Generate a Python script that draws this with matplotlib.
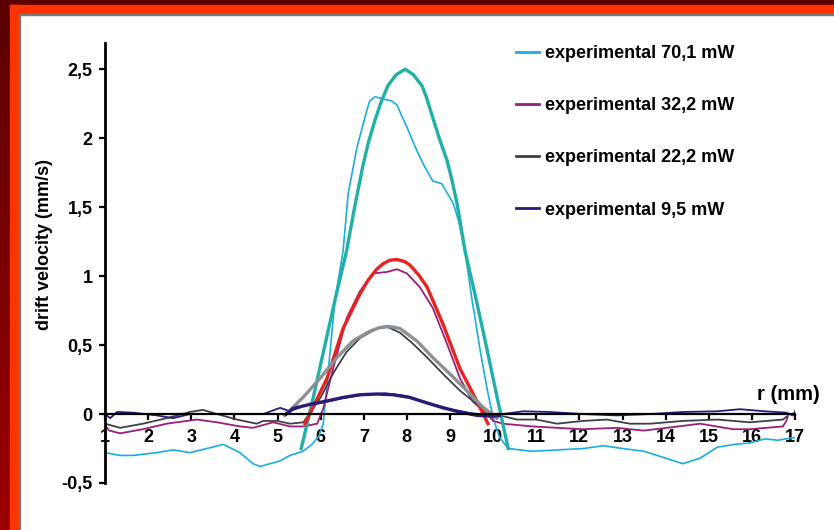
import matplotlib
matplotlib.use("Agg")
import numpy as np
import matplotlib.pyplot as plt
from matplotlib.patches import Rectangle

plt.rcParams["font.family"] = ["Liberation Sans", "DejaVu Sans"]
plt.rcParams["font.weight"] = "bold"

# -----------------------------
# Data
# -----------------------------
exp70_x = [1.0, 1.35, 1.65, 2.2, 2.58, 2.97, 3.36, 3.74, 4.13, 4.43, 4.6, 5.06, 5.29, 5.59, 5.8, 5.96,
           6.06, 6.15, 6.33, 6.52, 6.64, 6.84, 7.07, 7.14, 7.26, 7.38, 7.5, 7.65, 7.77, 8.0, 8.23, 8.4,
           8.6, 8.81, 9.07, 9.2, 9.35, 9.5, 9.7, 9.85, 10.0, 10.15, 10.35, 10.9, 11.5, 12.1, 12.55,
           13.0, 13.5, 14.0, 14.4, 14.8, 15.2, 15.6, 15.95, 16.3, 16.6, 17.0]
exp70_y = [-0.28, -0.3, -0.3, -0.28, -0.26, -0.28, -0.25, -0.22, -0.28, -0.36, -0.38, -0.34, -0.3, -0.27, -0.22, -0.16,
           -0.07, 0.22, 0.82, 1.18, 1.6, 1.93, 2.2, 2.27, 2.3, 2.29, 2.28, 2.27, 2.24, 2.08, 1.91, 1.8,
           1.69, 1.67, 1.53, 1.4, 1.18, 0.85, 0.46, 0.2, -0.03, -0.17, -0.25, -0.27, -0.26, -0.25, -0.23,
           -0.25, -0.27, -0.32, -0.36, -0.32, -0.24, -0.22, -0.21, -0.18, -0.19, -0.17]

fit70_x = [5.55, 5.8, 6.1, 6.35, 6.6, 6.8, 6.98, 7.1, 7.26, 7.4, 7.56, 7.75, 7.96, 8.15, 8.35, 8.45,
           8.6, 8.75, 8.93, 9.05, 9.16, 9.35, 9.6, 9.85, 10.1, 10.35]
fit70_y = [-0.25, 0.08, 0.5, 0.85, 1.18, 1.52, 1.8, 1.96, 2.13, 2.26, 2.38, 2.46, 2.5, 2.46, 2.38, 2.3,
           2.15, 2.0, 1.84, 1.69, 1.53, 1.18, 0.84, 0.48, 0.11, -0.25]

exp32_x = [1.0, 1.1, 1.35, 1.88, 2.43, 3.13, 3.6, 4.13, 4.43, 4.9, 5.29, 5.6, 5.92, 6.06, 6.29, 6.61, 6.91,
           7.22, 7.54, 7.77, 8.0, 8.3, 8.6, 8.93, 9.23, 9.53, 9.86, 10.0, 10.23, 10.92, 11.48, 12.08,
           12.87, 13.48, 14.03, 14.8, 15.56, 15.95, 16.72, 16.8, 16.85]
exp32_y = [-0.08, -0.12, -0.14, -0.11, -0.07, -0.04, -0.06, -0.09, -0.1, -0.06, -0.09, -0.09, -0.07, 0.04, 0.33, 0.7, 0.89,
           1.02, 1.03, 1.05, 1.02, 0.92, 0.77, 0.51, 0.26, 0.09, 0.0, -0.05, -0.07, -0.09, -0.1, -0.11,
           -0.1, -0.12, -0.1, -0.07, -0.11, -0.11, -0.09, -0.05, 0.0]

fit32_x = [5.64, 6.15, 6.52, 6.91, 7.1, 7.3, 7.45, 7.6, 7.77, 7.95, 8.07, 8.27, 8.47, 8.84, 9.23, 9.63, 9.88]
fit32_y = [-0.07, 0.26, 0.62, 0.87, 0.97, 1.05, 1.09, 1.115, 1.12, 1.105, 1.08, 1.01, 0.92, 0.65, 0.33, 0.09, -0.07]

exp22_x = [1.0, 1.35, 1.88, 2.43, 2.97, 3.27, 3.6, 4.06, 4.52, 4.67, 5.0, 5.29, 5.6, 5.8, 6.0, 6.3, 6.6,
           6.91, 7.3, 7.56, 7.84, 8.14, 8.47, 8.84, 9.23, 9.63, 10.0, 10.16, 10.55, 11.0, 11.48, 12.08,
           12.64, 13.17, 13.64, 14.4, 15.2, 15.95, 16.72, 16.8]
exp22_y = [-0.07, -0.1, -0.07, -0.03, 0.015, 0.03, 0.0, -0.04, -0.07, -0.05, -0.05, -0.07, -0.06, 0.03, 0.12, 0.3, 0.45,
           0.55, 0.62, 0.63, 0.59, 0.51, 0.41, 0.29, 0.17, 0.07, 0.0, -0.01, -0.04, -0.04, -0.07, -0.05,
           -0.04, -0.07, -0.07, -0.05, -0.04, -0.06, -0.04, -0.02]

fit22_x = [5.17, 5.59, 5.99, 6.38, 6.75, 7.14, 7.35, 7.54, 7.7, 7.84, 8.23, 8.6, 9.0, 9.39, 9.76, 10.09]
fit22_y = [-0.01, 0.12, 0.26, 0.41, 0.53, 0.6, 0.625, 0.635, 0.63, 0.62, 0.53, 0.41, 0.29, 0.17, 0.05, -0.03]

exp9_x = [1.0, 1.12, 1.28, 1.65, 2.2, 2.58, 2.97, 3.36, 3.74, 4.13, 4.67, 5.06, 5.29, 5.6, 6.0, 6.5, 7.0,
          7.5, 8.0, 8.5, 9.0, 9.5, 10.0, 10.23, 10.7, 11.3, 12.08, 12.87, 13.64, 14.4, 15.2, 15.72,
          16.3, 16.8, 16.95, 17.05]
exp9_y = [0.0, -0.03, 0.015, 0.01, -0.01, -0.03, 0.0, 0.0, 0.0, 0.0, 0.0, 0.045, 0.02, 0.06, 0.08, 0.115, 0.14,
          0.15, 0.13, 0.08, 0.035, 0.005, -0.01, 0.0, 0.02, 0.015, 0.0, -0.01, 0.0, 0.015, 0.02, 0.035,
          0.02, 0.01, -0.01, 0.05]

fit9_x = [5.2, 5.36, 5.75, 6.15, 6.52, 6.91, 7.3, 7.68, 8.07, 8.47, 8.84, 9.23, 9.63, 10.0, 10.15]
fit9_y = [0.0, 0.04, 0.07, 0.095, 0.12, 0.14, 0.145, 0.14, 0.12, 0.08, 0.045, 0.015, -0.01, -0.015, -0.01]

labels = ["experimental 70,1 mW", "experimental 32,2 mW", "experimental 22,2 mW", "experimental 9,5 mW"]
xticks = list(range(1, 18))
yticks = [-0.5, 0, 0.5, 1, 1.5, 2, 2.5]
ytick_labels = ["-0,5", "0", "0,5", "1", "1,5", "2", "2,5"]

W, H = 834, 530
fig = plt.figure(figsize=(W / 100, H / 100), dpi=100)

# -----------------------------
# Frame around the slide
# -----------------------------
bg = fig.add_axes([0, 0, 1, 1], zorder=-5)
bg.axis("off")
grad = np.linspace(0, 1, 100).reshape(-1, 1)
bg.imshow(grad, extent=[0, 10, H, 0], aspect="auto",
          cmap=matplotlib.colors.LinearSegmentedColormap.from_list("m", ["#5a0000", "#9c0000"]))
bg.add_patch(Rectangle((0, 0), W, 5, color="#5a0000"))
bg.add_patch(Rectangle((10, 5), W - 10, 9, color="#ff3300"))
bg.add_patch(Rectangle((10, 5), 9, H - 5, color="#ff3300"))
bg.add_patch(Rectangle((19, 14), W - 19, 1, color="#777777"))
bg.add_patch(Rectangle((19, 14), 1, H - 14, color="#777777"))
bg.set_xlim(0, W)
bg.set_ylim(H, 0)

# -----------------------------
# Main plot
# -----------------------------
ax = fig.add_axes([105 / W, 47 / H, 690 / W, 440 / H])
ax.patch.set_alpha(0)

ax.plot(exp70_x, exp70_y, color="#1aaee0", lw=1.2, label=labels[0])
ax.plot(exp32_x, exp32_y, color="#9b1f7a", lw=1.3, label=labels[1])
ax.plot(exp22_x, exp22_y, color="#3c4148", lw=1.3, label=labels[2])
ax.plot(exp9_x, exp9_y, color="#2b1a78", lw=1.3, label=labels[3])
ax.plot(fit70_x, fit70_y, color="#20b0a8", lw=2.4)
ax.plot(fit32_x, fit32_y, color="#e8221e", lw=2.4)
ax.plot(fit22_x, fit22_y, color="#8b9095", lw=2.4)
ax.plot(fit9_x, fit9_y, color="#2b1a78", lw=2.4)

ax.set_xlim(1, 17)
ax.set_ylim(-0.5, 2.69)
ax.spines["top"].set_visible(False)
ax.spines["right"].set_visible(False)
ax.spines["bottom"].set_position(("data", 0))
ax.spines["bottom"].set_linewidth(1.6)
ax.spines["left"].set_linewidth(2.0)
ax.set_xticks(xticks)
ax.set_xticklabels([str(v) for v in xticks])
ax.set_yticks(yticks)
ax.set_yticklabels(ytick_labels)
ax.tick_params(axis="x", direction="out", length=4, width=1.6, pad=7, labelsize=13)
ax.tick_params(axis="y", direction="out", length=4, width=1.6, pad=5, labelsize=13)
for t in ax.get_xticklabels() + ax.get_yticklabels():
    t.set_fontweight("bold")

ax.text(16.84, 0.145, "r (mm)", fontsize=14.5, fontweight="bold", ha="center", va="center", clip_on=False)
fig.text(45 / W, 1 - 245 / H, "drift velocity (mm/s)", rotation=90, fontsize=13,
         fontweight="bold", ha="center", va="center")

leg = ax.legend(loc="upper left", bbox_to_anchor=(516 / W, 1 - 45 / H), bbox_transform=fig.transFigure,
                frameon=False, fontsize=13, handlelength=1.3, handletextpad=0.3, labelspacing=1.95,
                borderpad=0, borderaxespad=0)
for t in leg.get_texts():
    t.set_fontweight("bold")
for h in leg.get_lines():
    h.set_linewidth(2.0)

fig.savefig("out.png", dpi=100)
